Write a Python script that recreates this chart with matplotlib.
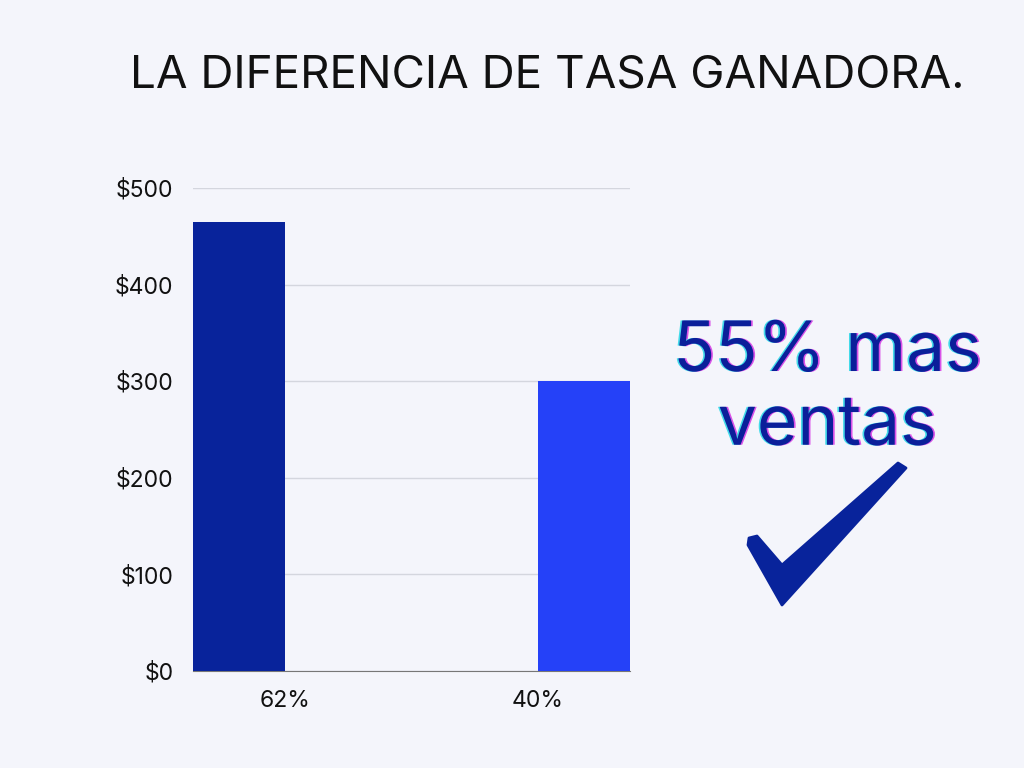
import matplotlib.pyplot as plt
import matplotlib.patheffects as pe
from matplotlib.patches import Polygon

# datos
categorias = ['62%', '40%']
ventas = [465, 300]
colores = ['#08239b', '#2541f8']
yticks = [0, 100, 200, 300, 400, 500]
ytick_labels = ['$0', '$100', '$200', '$300', '$400', '$500']

plt.rcParams['font.family'] = ['Inter', 'DejaVu Sans']
bg = '#f4f5fb'

fig = plt.figure(figsize=(10.24, 7.68), dpi=100, facecolor=bg)
ax = fig.add_axes([0.1885, 0.1263, 0.4268, 0.6289], facecolor=bg)

x = list(range(len(categorias)))
w = 0.3665
# la primera barra queda a la izquierda de su etiqueta, la segunda a la derecha
anchos = [-w, w]
ax.bar(x, ventas, width=anchos, align='edge', color=colores, zorder=3)
ax.set_xlim(-w, x[-1] + w)
ax.set_ylim(0, 500)
ax.set_xticks(x)
ax.set_xticklabels(categorias)
ax.set_yticks(yticks)
ax.set_yticklabels(ytick_labels)
ax.tick_params(axis='both', length=0, labelsize=16.5, colors='#111111')
ax.tick_params(axis='y', pad=14)
ax.tick_params(axis='x', pad=14)
ax.grid(axis='y', color='#d4d6de', lw=1, zorder=0)
for s in ['top', 'right', 'left']:
    ax.spines[s].set_visible(False)
ax.spines['bottom'].set_color('#777777')

fig.text(0.534, 0.902, 'LA DIFERENCIA DE TASA GANADORA.', ha='center', va='center',
         fontsize=33, color='#111111')

efectos = [pe.SimplePatchShadow(offset=(1.2, 0), shadow_rgbFace='#d640e6', alpha=0.9),
           pe.SimplePatchShadow(offset=(-1.2, 0), shadow_rgbFace='#30d8e8', alpha=0.9),
           pe.Normal()]
for txt, yy in [('55% mas', 0.541), ('ventas', 0.445)]:
    fig.text(0.808, yy, txt, ha='center', va='center', fontsize=50,
             color='#0b1f9a', path_effects=efectos)

# marca de verificacion
pts = [(749, 538), (757, 536), (782, 565), (898, 463), (906, 468), (782, 605), (748, 545)]
check = Polygon([(px / 1024, 1 - py / 768) for px, py in pts], closed=True,
                transform=fig.transFigure, facecolor='#08239b', edgecolor='#08239b',
                joinstyle='round', lw=2)
fig.patches.append(check)

fig.savefig('out.png', dpi=100, facecolor=bg)
